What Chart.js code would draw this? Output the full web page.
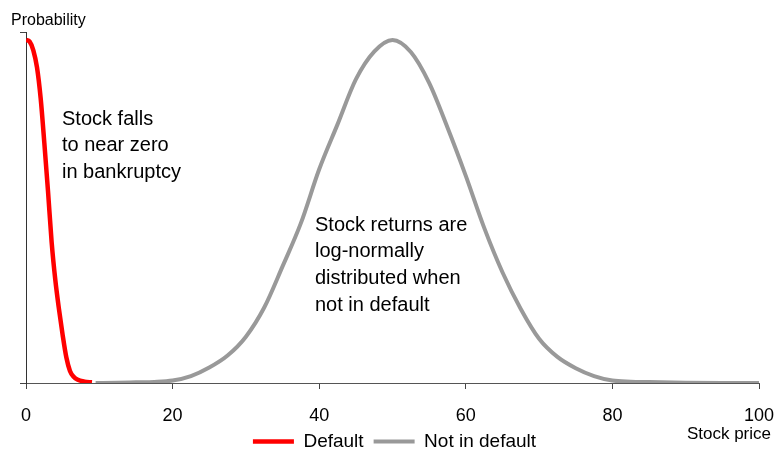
<!DOCTYPE html>
<html>
<head>
<meta charset="utf-8">
<script src="https://cdn.jsdelivr.net/npm/chart.js@4.4.1/dist/chart.umd.min.js"></script>
<style>
html, body { margin: 0; padding: 0; background: #fff; overflow: hidden; }
</style>
</head>
<body>
<canvas id="probChart" width="776" height="452"></canvas>
<script>
// red curve: stock price in default
const defaultPrice = [0, 0.5, 1, 1.5, 2, 2.5, 3, 3.5, 4, 4.5, 5, 5.5, 6, 6.5, 7, 8, 9];
const defaultProb = [1.0, 0.995, 0.97, 0.92, 0.83, 0.70, 0.56, 0.41, 0.30, 0.215, 0.14, 0.075, 0.035, 0.018, 0.01, 0.004, 0.002];

// grey curve: stock price when not in default
const solventPrice = [9.5, 12.5, 15, 17.5, 20, 22.5, 25, 27.5, 30, 32.5, 35, 37.5, 40, 42.5, 45, 47.5, 50,
  52.5, 55, 57.5, 60, 62.5, 65, 67.5, 70, 72.5, 75, 77.5, 80, 82.5, 85, 90, 95, 100];
const solventProb = [0.0, 0.001, 0.002, 0.003, 0.007, 0.02, 0.045, 0.08, 0.135, 0.22, 0.34, 0.466, 0.623, 0.754, 0.885, 0.966, 1.0,
  0.965, 0.875, 0.745, 0.604, 0.453, 0.323, 0.216, 0.129, 0.076, 0.043, 0.02, 0.007, 0.004, 0.003, 0.001, 0.0, 0.0];

const xTicks = [0, 20, 40, 60, 80, 100];
const seriesNames = ['Default', 'Not in default'];
const noteLeft = ['Stock falls', 'to near zero', 'in bankruptcy'];
const noteMid = ['Stock returns are', 'log-normally', 'distributed when', 'not in default'];

const FONT = '"Liberation Sans", Arial, Helvetica, sans-serif';
Chart.defaults.color = '#000';
Chart.defaults.font.family = FONT;

const textPlugin = {
    id: 'textPlugin',
    afterLayout(chart) {
        // legend sits a little right of centre in the original
        chart.legend.left += 15;
        chart.legend.right += 15;
    },
    afterDraw(chart) {
        const c = chart.ctx;
        c.save();
        c.fillStyle = '#000';
        c.textBaseline = 'middle';
        c.textAlign = 'left';
        c.font = '16px ' + FONT;
        c.fillText('Probability', 11, 21);
        c.font = '20px ' + FONT;
        noteLeft.forEach((t, i) => c.fillText(t, 62, 119 + i * 26.5));
        noteMid.forEach((t, i) => c.fillText(t, 315, 225 + i * 26.7));
        c.font = '17px ' + FONT;
        c.textAlign = 'right';
        c.fillText('Stock price', 771, 434);
        c.restore();
    }
};

const yTop = 1.0233;

const ctx = document.getElementById('probChart').getContext('2d');
const probChart = new Chart(ctx, {
    type: 'line',
    data: {
        datasets: [{
            label: seriesNames[0],
            data: defaultPrice.map((p, i) => ({ x: p, y: defaultProb[i] })),
            borderColor: '#ff0000',
            backgroundColor: '#ff0000',
            borderWidth: 4.5,
            pointRadius: 0,
            cubicInterpolationMode: 'monotone',
            order: 0
        }, {
            label: seriesNames[1],
            data: solventPrice.map((p, i) => ({ x: p, y: solventProb[i] })),
            borderColor: '#999999',
            backgroundColor: '#999999',
            borderWidth: 4,
            pointRadius: 0,
            cubicInterpolationMode: 'monotone',
            order: 1
        }]
    },
    options: {
        responsive: false,
        animation: false,
        layout: { autoPadding: false, padding: { top: 32, left: 0, right: 17, bottom: -9 } },
        plugins: {
            tooltip: { enabled: false },
            legend: {
                position: 'bottom',
                labels: {
                    usePointStyle: true,
                    pointStyle: 'line',
                    pointStyleWidth: 41,
                    padding: 10,
                    font: { size: 19 },
                    color: '#000'
                }
            }
        },
        scales: {
            x: {
                type: 'linear',
                min: 0,
                max: 100,
                afterBuildTicks: scale => { scale.ticks = xTicks.map(v => ({ value: v })); },
                afterFit: scale => {
                    scale.height = 39;
                    scale.paddingLeft = 0;
                    scale.paddingRight = 0;
                },
                ticks: { font: { size: 18 }, color: '#000', padding: 16, maxRotation: 0 },
                grid: { drawOnChartArea: false, tickLength: 6, color: '#444' },
                border: { color: '#555', width: 1 }
            },
            y: {
                min: 0,
                max: yTop,
                afterBuildTicks: scale => { scale.ticks = [{ value: 0 }, { value: yTop }]; },
                afterFit: scale => { scale.width = 26; },
                ticks: { display: false },
                grid: { drawOnChartArea: false, tickLength: 6, color: '#444' },
                border: { color: '#333', width: 1 }
            }
        }
    },
    plugins: [textPlugin]
});
</script>
</body>
</html>
